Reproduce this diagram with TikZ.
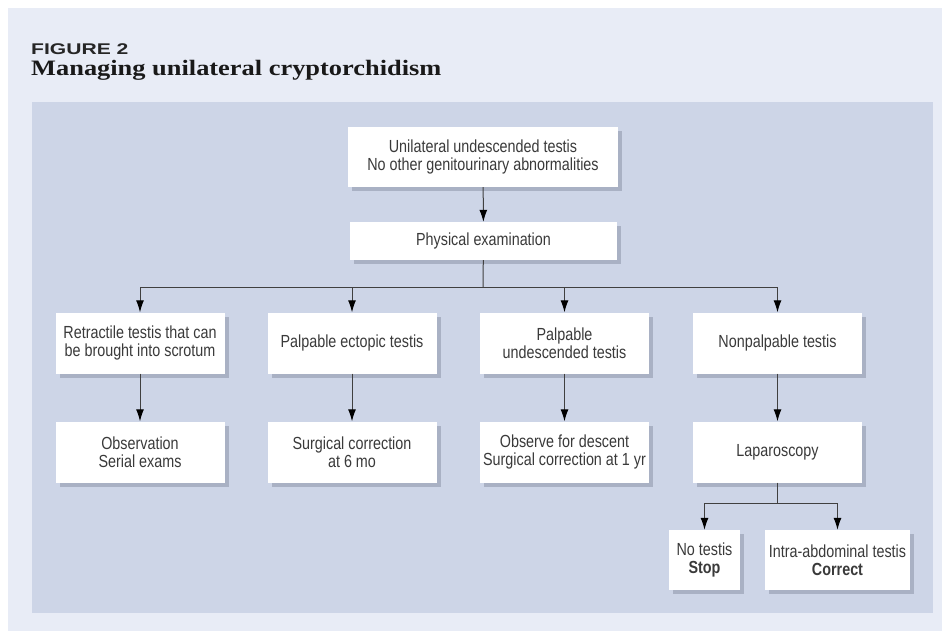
\documentclass[tikz,border=0pt]{standalone}
\usepackage{fontspec}
\setmainfont{Liberation Sans}[FakeStretch=0.82]
\newfontfamily\figfont{Liberation Sans}[FakeStretch=1.36]
\newfontfamily\headfont{Liberation Serif}[FakeStretch=1.2]
\usetikzlibrary{arrows.meta,shadows}
\definecolor{pagebg}{HTML}{E8ECF6}
\definecolor{panelbg}{HTML}{CDD5E7}
\definecolor{shadowgray}{HTML}{A9B1C4}
\definecolor{textgray}{HTML}{3A3A3A}
\definecolor{linegray}{HTML}{404040}
\tikzset{
  stepbox/.style={fill=white, text=textgray, align=center, inner sep=0pt,
    font=\fontsize{17.5}{18.5}\selectfont,
    drop shadow={shadow xshift=4pt, shadow yshift=-4pt, fill=shadowgray, opacity=1}},
  flow/.style={draw=linegray, line width=1pt},
  flowarrow/.style={flow, -{Latex[length=12pt,width=8pt,color=black]}},
}
\begin{document}
\begin{tikzpicture}
% 1pt = 1 pixel of the 942x631 page, y runs downwards
[x=1pt, y=-1pt]
\useasboundingbox (0,0) rectangle (942,631);
\fill[white] (0,0) rectangle (942,631);
\fill[pagebg] (8,8) rectangle (942,631);
\fill[panelbg] (32,102) rectangle (933,613);
% heading
\node[anchor=base west, inner sep=0pt, text=black!85,
  font={\figfont\bfseries\fontsize{15.5}{16}\selectfont}] (figno) at (31,54.5) {FIGURE 2};
\node[anchor=base west, inner sep=0pt, text=black!90,
  font={\headfont\bfseries\fontsize{22}{24}\selectfont}] (heading) at (31,75.5) {Managing unilateral cryptorchidism};
% top of the tree
\node[stepbox, minimum width=270, minimum height=60] (start) at (483,157)
  {Unilateral undescended testis\\No other genitourinary abnormalities};
\node[stepbox, minimum width=267, minimum height=38] (exam) at (483.5,241) {Physical examination};
% 169 = box width, 212.5 = column pitch
\node[stepbox, minimum width=169, minimum height=61] (retract) at (140,343)
  {Retractile testis that can\\be brought into scrotum};
\node[stepbox, minimum width=169, minimum height=61] (ectopic) at (352,343) {Palpable ectopic testis};
\node[stepbox, minimum width=169, minimum height=61] (palpable) at (564.5,343)
  {Palpable\\undescended testis};
\node[stepbox, minimum width=169, minimum height=61] (nonpalp) at (777.5,343) {Nonpalpable testis};
\node[stepbox, minimum width=169, minimum height=61] (observe) at (140,452) {Observation\\Serial exams};
\node[stepbox, minimum width=169, minimum height=61] (surgsix) at (352,452) {Surgical correction\\at 6 mo};
\node[stepbox, minimum width=169, minimum height=61] (surgyear) at (564.5,452)
  {Observe for descent\\Surgical correction at 1 yr};
\node[stepbox, minimum width=169, minimum height=61] (lap) at (777.5,452) {Laparoscopy};
\node[stepbox, minimum width=71, minimum height=60] (notestis) at (704.5,560) {No testis\\\textbf{Stop}};
\node[stepbox, minimum width=145, minimum height=60] (intra) at (837.5,560)
  {Intra-abdominal testis\\\textbf{Correct}};
% branch points
\coordinate (split) at (483,287);
\coordinate (lapsplit) at (777.5,503);
\draw[flowarrow] (start) -- (exam);
\draw[flow] (exam) -- (split);
\foreach \kind in {retract,ectopic,palpable,nonpalp}{
  \draw[flowarrow] (split) -| (\kind);
}
\foreach \upper/\lower in {retract/observe,ectopic/surgsix,palpable/surgyear,nonpalp/lap}{
  \draw[flowarrow] (\upper) -- (\lower);
}
\draw[flow] (lap) -- (lapsplit);
\foreach \kind in {notestis,intra}{
  \draw[flowarrow] (lapsplit) -| (\kind);
}
\end{tikzpicture}
\end{document}
